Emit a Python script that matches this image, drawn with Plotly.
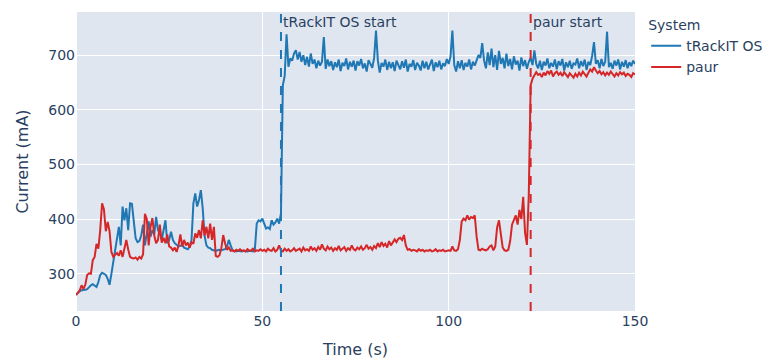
import numpy as np
import plotly.graph_objects as go

# sampling times (s), every 0.5 s
time_s = np.arange(0, 150.5, 0.5)

trackit_os = [
    262, 266, 268, 270, 270, 271, 272, 276, 279, 281,
    278, 276, 285, 298, 302, 300, 298, 291, 280, 300,
    322, 340, 365, 386, 352, 423, 398, 420, 380, 429,
    428, 400, 365, 358, 360, 370, 390, 352, 375, 396,
    368, 380, 372, 404, 380, 374, 362, 380, 398, 356,
    362, 377, 362, 356, 352, 350, 351, 353, 348, 346,
    345, 350, 362, 429, 447, 423, 435, 453, 420, 370,
    352, 348, 347, 344, 343, 342, 343, 344, 343, 344,
    345, 350, 362, 352, 343, 342, 341, 342, 341, 341,
    342, 341, 341, 342, 341, 341, 345, 392, 398, 396,
    401, 390, 383, 385, 382, 398, 390, 394, 401, 392,
    410, 645, 662, 738, 679, 694, 690, 703, 709, 692,
    706, 688, 700, 682, 697, 679, 703, 684, 692, 676,
    690, 681, 688, 733, 675, 692, 680, 689, 673, 687,
    678, 692, 671, 686, 680, 694, 674, 688, 679, 690,
    672, 689, 681, 693, 676, 685, 670, 691, 683, 677,
    695, 745, 690, 668, 686, 679, 692, 673, 688, 676,
    687, 671, 690, 680, 674, 689, 677, 692, 670, 684,
    679, 691, 673, 686, 681, 672, 690, 676, 688, 674,
    683, 692, 671, 687, 678, 690, 674, 685, 680, 693,
    684, 698, 745, 682, 670, 689, 676, 691, 673, 686,
    679, 692, 674, 688, 681, 690, 700, 695, 722, 690,
    676, 705, 682, 712, 678, 700, 673, 708, 684, 695,
    676, 703, 680, 693, 674, 698, 683, 690, 672, 696,
    680, 691, 675, 688, 695, 682, 709, 684, 676, 690,
    673, 688, 681, 694, 676, 686, 679, 692, 674, 689,
    681, 693, 672, 687, 678, 690, 675, 685, 683, 694,
    676, 689, 680, 692, 673, 688, 682, 699, 724, 684,
    691, 676, 693, 680, 688, 743, 678, 686, 675, 690,
    681, 692, 674, 688, 679, 691, 676, 687, 680, 690,
    684,
]

paur = [
    261, 266, 270, 279, 272, 280, 298, 301, 300, 325,
    331, 355, 346, 380, 429, 418, 378, 395, 378, 340,
    331, 335, 338, 333, 343, 331, 345, 362, 345, 331,
    329, 328, 330, 326, 331, 328, 336, 410, 400, 352,
    386, 402, 370, 356, 362, 390, 357, 366, 356, 372,
    350, 348, 343, 348, 340, 352, 372, 350, 362, 352,
    357, 348, 358, 355, 374, 366, 380, 365, 398, 370,
    386, 365, 392, 362, 386, 333, 331, 334, 347, 371,
    356, 344, 348, 342, 343, 341, 344, 342, 345, 342,
    343, 341, 345, 342, 343, 346, 341, 343, 342, 345,
    342, 344, 341, 346, 343, 342, 347, 341, 344, 352,
    343, 341, 346, 342, 345, 341, 343, 347, 342, 344,
    346, 341, 348, 343, 345, 342, 350, 344, 347, 342,
    349, 344, 354, 346, 343, 350, 345, 348, 342, 347,
    344, 351, 343, 346, 349, 342, 347, 344, 352, 345,
    343, 348, 345, 350, 344, 347, 353, 346, 349, 344,
    351, 347, 356, 349, 358, 351, 355, 348, 360, 352,
    357, 363, 358, 364, 366, 362, 371, 352, 344, 345,
    342, 344, 343, 341, 345, 342, 344, 341, 343, 342,
    344, 341, 342, 345, 341, 343, 342, 344, 341, 342,
    343, 342, 350, 343, 342, 345, 362, 396, 401, 398,
    407, 399, 404, 402, 407, 368, 344, 343, 346, 344,
    343, 345, 350, 352, 343, 350, 385, 398, 372, 348,
    343, 342, 344, 360, 390, 400, 407, 390, 417, 400,
    441, 375, 353, 445, 645, 657, 663, 669, 664, 666,
    660, 668, 663, 671, 666, 672, 661, 667, 670, 664,
    668, 662, 669, 665, 660, 667, 663, 659, 666, 661,
    668, 663, 670, 665, 661, 668, 674, 670, 678, 672,
    667, 671, 665, 669, 663, 668, 664, 670, 666, 661,
    667, 663, 669, 665, 668, 662, 666, 664, 660, 667,
    665,
]

series_names = ["tRackIT OS", "paur"]
series_colors = ["#1f77b4", "#d62728"]
start_times = [55, 122]
start_labels = ["tRackIT OS start", "paur start"]

fig = go.Figure()
for name, vals, col in zip(series_names, [trackit_os, paur], series_colors):
    fig.add_trace(go.Scatter(x=time_s, y=vals, mode="lines", name=name,
                             line=dict(color=col, width=2)))

for t, lab, col in zip(start_times, start_labels, series_colors):
    fig.add_vline(x=t, line_dash="dash", line_color=col, line_width=2,
                  annotation_text=lab, annotation_position="top right",
                  annotation_font=dict(size=14, color="#2a3f5f"))

fig.update_layout(
    template="plotly",
    width=772, height=361,
    font=dict(family="DejaVu Sans", size=14, color="#2a3f5f"),
    plot_bgcolor="#dfe6f0",
    margin=dict(l=76, r=137, t=12, b=50, autoexpand=False),
    legend=dict(title=dict(text="System", font=dict(size=14)), font=dict(size=14)),
    xaxis=dict(title=dict(text="Time (s)", font=dict(size=16)), range=[0, 150],
               tickvals=[0, 50, 100, 150]),
    yaxis=dict(title=dict(text="Current (mA)", font=dict(size=16)), range=[232, 779],
               tickvals=[300, 400, 500, 600, 700]),
)

fig.write_html("out.html")
